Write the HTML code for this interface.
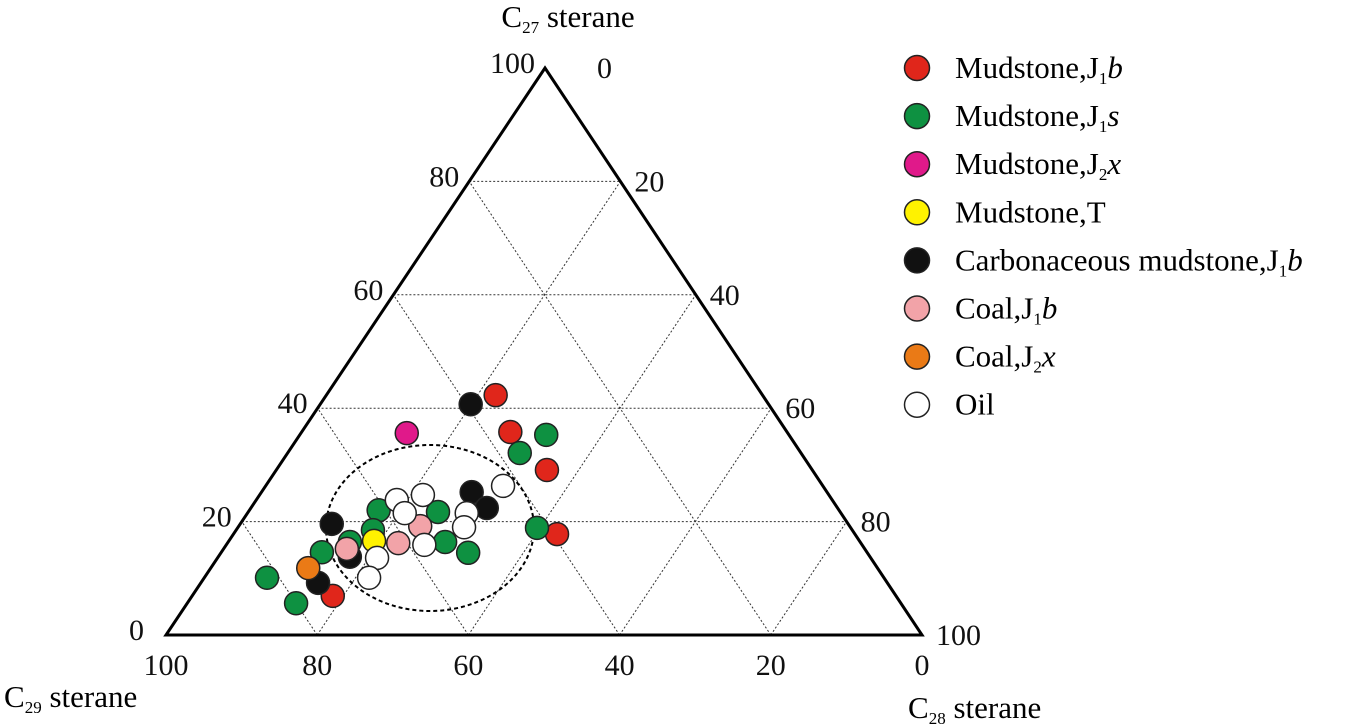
<!DOCTYPE html>
<html><head><meta charset="utf-8"><style>
html,body{margin:0;padding:0;background:#fff;}
svg{display:block;font-family:"Liberation Serif",serif;}
</style></head><body>
<svg id="chart" width="1350" height="726" viewBox="0 0 1350 726">
<g id="grid"></g>
<polygon points="545,68 166,635 922,635" fill="none" stroke="#000" stroke-width="3"/>
<ellipse cx="430" cy="528" rx="104" ry="83" fill="none" stroke="#000" stroke-width="2" stroke-dasharray="4,3"/>
<g id="ticks" font-size="30" fill="#111"></g>
<g id="points"></g>
<text x="568" y="27" text-anchor="middle" font-size="31">C<tspan font-size="17" dy="6">27</tspan><tspan dy="-6"> sterane</tspan></text>
<text x="4" y="707" font-size="31">C<tspan font-size="17" dy="6">29</tspan><tspan dy="-6"> sterane</tspan></text>
<text x="908" y="718" font-size="31">C<tspan font-size="17" dy="6">28</tspan><tspan dy="-6"> sterane</tspan></text>
<g id="legend" font-size="31"></g>
</svg>
<script>
const NS="http://www.w3.org/2000/svg";
const TOP=[545,68],BL=[166,635],BR=[922,635];
const tickValues=[0,20,40,60,80,100];
const gridLevels=[20,40,60,80];
// series: c27 (top) and c28 (right) percentages; c29 = 100 - c27 - c28
const seriesNames=["Mudstone,J1b","Mudstone,J1s","Mudstone,J2x","Mudstone,T","Carbonaceous mudstone,J1b","Coal,J1b","Coal,J2x","Oil"];
const seriesColors=["#e0261b","#0e9141","#e0198a","#fff200","#111111","#f2a3a8","#ea7a16","#ffffff"];
const redC27=[42.3,35.8,29.1,17.8,6.9];
const redC28=[22.4,27.6,35.8,42.8,18.6];
const greenC27=[35.3,32.1,18.9,22.0,21.7,18.5,16.4,14.6,16.4,14.5,10.1,5.6];
const greenC28=[32.6,30.7,39.6,17.1,25.1,18.1,16.1,13.3,28.7,32.7,8.3,14.4];
const magentaC27=[35.6];
const magentaC28=[14.0];
const yellowC27=[16.6];
const yellowC28=[19.2];
const blackC27=[40.7,19.6,25.2,22.4,13.8,9.2];
const blackC28=[19.9,12.1,27.8,31.2,17.4,15.5];
const orangeC27=[11.8];
const orangeC28=[12.9];
const pinkC27=[19.2,16.2,15.2];
const pinkC28=[24.0,22.6,16.3];
const oilC27=[26.3,23.8,24.7,21.5,21.5,19.0,15.9,13.6,10.1];
const oilC28=[31.4,18.6,21.6,20.8,29.0,29.9,26.2,21.1,21.8];

function proj(a,c){a/=100;c/=100;const b=1-a-c;
 return [a*TOP[0]+b*BL[0]+c*BR[0], a*TOP[1]+b*BL[1]+c*BR[1]];}
function mk(tag,attrs,parent){const e=document.createElementNS(NS,tag);for(const k in attrs)e.setAttribute(k,attrs[k]);parent.appendChild(e);return e;}

const grid=document.getElementById('grid');
gridLevels.forEach(k=>{
 [[proj(k,0),proj(k,100-k)],[proj(0,k),proj(100-k,k)],[proj(0,100-k),proj(100-k,0)]].forEach(([p,q])=>{
  const l=mk('line',{x1:p[0],y1:p[1],x2:q[0],y2:q[1],stroke:'#333','stroke-width':1,'stroke-dasharray':'2,2'},grid);
  
  
 });
});

const ticks=document.getElementById('ticks');
tickValues.forEach(v=>{
 let p=proj(v,0);
 let t=mk('text',{x:p[0]-10-(v===0?12:0),y:p[1]+5,'text-anchor':'end'},ticks);t.textContent=v;
 
 
 p=proj(100-v,v);
 t=mk('text',{x:p[0]+14+(v===0?38:0),y:p[1]+10},ticks);t.textContent=v;
 
 
 p=proj(0,100-v);
 t=mk('text',{x:p[0],y:p[1]+40,'text-anchor':'middle'},ticks);t.textContent=v;
 
 
});

const pts=document.getElementById('points');
const groups=[[redC27,redC28],[greenC27,greenC28],[magentaC27,magentaC28],[yellowC27,yellowC28],[blackC27,blackC28],[orangeC27,orangeC28],[pinkC27,pinkC28],[oilC27,oilC28]];
const colorIdx=[0,1,2,3,4,6,5,7];
groups.forEach((g,gi)=>{
 const ci=colorIdx[gi];
 g[0].forEach((a,i)=>{
  const p=proj(a,g[1][i]);
  const c=mk('circle',{cx:p[0],cy:p[1],r:11.5,fill:seriesColors[ci],stroke:'#222','stroke-width':1.5},pts);
  
  
 });
});

const leg=document.getElementById('legend');
const legLabels=[
 'Mudstone,J<tspan font-size="17" dy="6">1</tspan><tspan dy="-6" font-style="italic">b</tspan>',
 'Mudstone,J<tspan font-size="17" dy="6">1</tspan><tspan dy="-6" font-style="italic">s</tspan>',
 'Mudstone,J<tspan font-size="17" dy="6">2</tspan><tspan dy="-6" font-style="italic">x</tspan>',
 'Mudstone,T',
 'Carbonaceous mudstone,J<tspan font-size="17" dy="6">1</tspan><tspan dy="-6" font-style="italic">b</tspan>',
 'Coal,J<tspan font-size="17" dy="6">1</tspan><tspan dy="-6" font-style="italic">b</tspan>',
 'Coal,J<tspan font-size="17" dy="6">2</tspan><tspan dy="-6" font-style="italic">x</tspan>',
 'Oil'];
seriesNames.forEach((n,i)=>{
 const y=68+48.1*i;
 const c=mk('circle',{cx:917,cy:y,r:12.5,fill:seriesColors[i],stroke:'#222','stroke-width':1.5},leg);
 
 
 const t=mk('text',{x:955,y:y+10},leg);
 t.innerHTML=legLabels[i];
 
 
});
</script>
</body></html>
